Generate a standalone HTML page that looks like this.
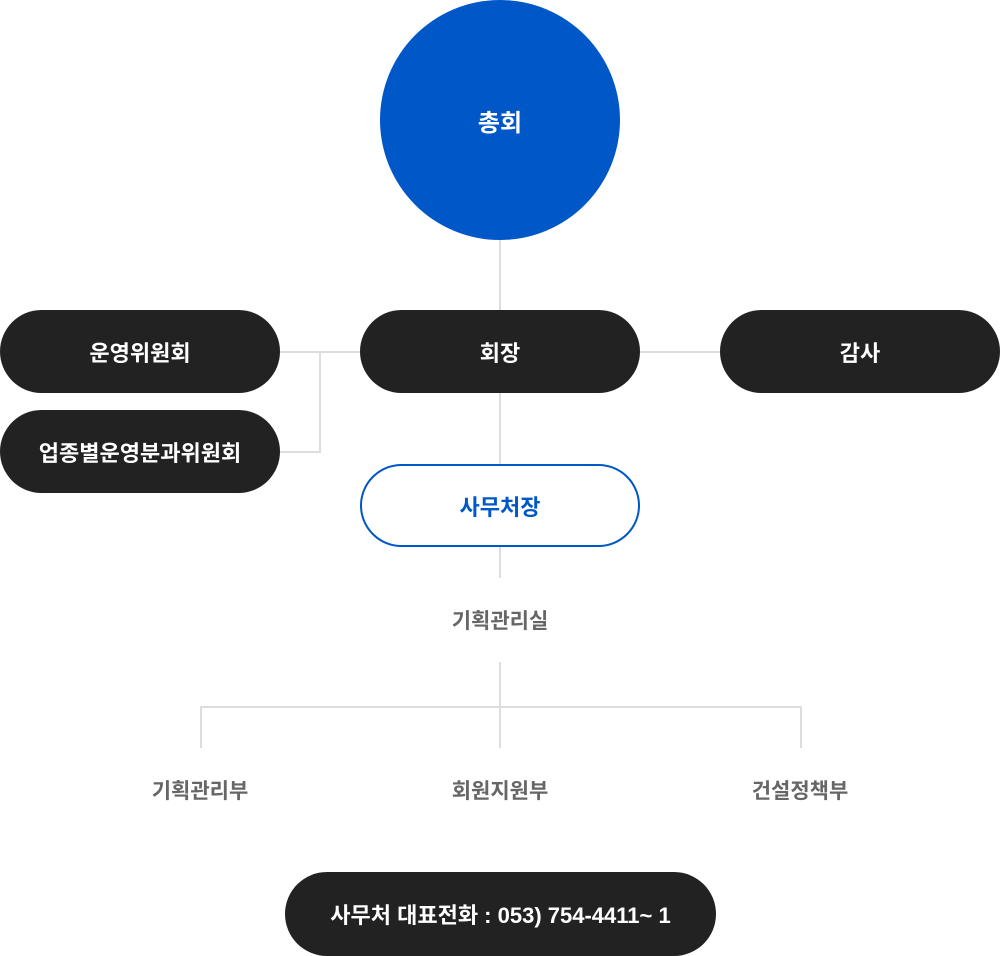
<!DOCTYPE html>
<html><head><meta charset="utf-8"><style>
*{margin:0;padding:0;box-sizing:border-box}
body{width:1000px;height:956px;background:#fff;position:relative;overflow:hidden;font-family:"Liberation Sans","Noto Sans CJK KR",sans-serif}
.c{position:absolute;left:380px;top:0;width:240px;height:240px;border-radius:50%;background:#0057c8;color:#fff;font-size:24px;font-weight:bold;display:flex;align-items:center;justify-content:center}
.p{position:absolute;height:83px;border-radius:42px;background:#222;color:#fff;font-size:22px;font-weight:bold;display:flex;align-items:center;justify-content:center}
.l{position:absolute;background:#ddd}
.t{position:absolute;color:#666;font-size:21px;font-weight:bold;text-align:center;width:200px}
</style></head><body>
<div class="c">총회</div>
<div class="l" style="left:499px;top:240px;width:2px;height:70px"></div>
<div class="p" style="left:0;top:310px;width:280px">운영위원회</div>
<div class="p" style="left:360px;top:310px;width:280px">회장</div>
<div class="p" style="left:720px;top:310px;width:280px">감사</div>
<div class="p" style="left:0;top:410px;width:280px">업종별운영분과위원회</div>
<div class="l" style="left:280px;top:351px;width:80px;height:2px"></div>
<div class="l" style="left:640px;top:351px;width:80px;height:2px"></div>
<div class="l" style="left:319px;top:351px;width:2px;height:102px"></div>
<div class="l" style="left:280px;top:451px;width:41px;height:2px"></div>
<div class="l" style="left:499px;top:393px;width:2px;height:72px"></div>
<div class="p" style="left:360px;top:464px;width:280px;background:#fff;border:2px solid #0057c8;color:#0057c8">사무처장</div>
<div class="l" style="left:499px;top:547px;width:2px;height:31px"></div>
<div class="t" style="left:400px;top:605px">기획관리실</div>
<div class="l" style="left:499px;top:662px;width:2px;height:86px"></div>
<div class="l" style="left:200px;top:706px;width:602px;height:2px"></div>
<div class="l" style="left:200px;top:706px;width:2px;height:42px"></div>
<div class="l" style="left:800px;top:706px;width:2px;height:42px"></div>
<div class="t" style="left:100px;top:775px">기획관리부</div>
<div class="t" style="left:400px;top:775px">회원지원부</div>
<div class="t" style="left:700px;top:775px">건설정책부</div>
<div class="p" style="left:285px;top:872px;width:431px;height:84px">사무처 대표전화 : 053) 754-4411~ 1</div>
</body></html>
